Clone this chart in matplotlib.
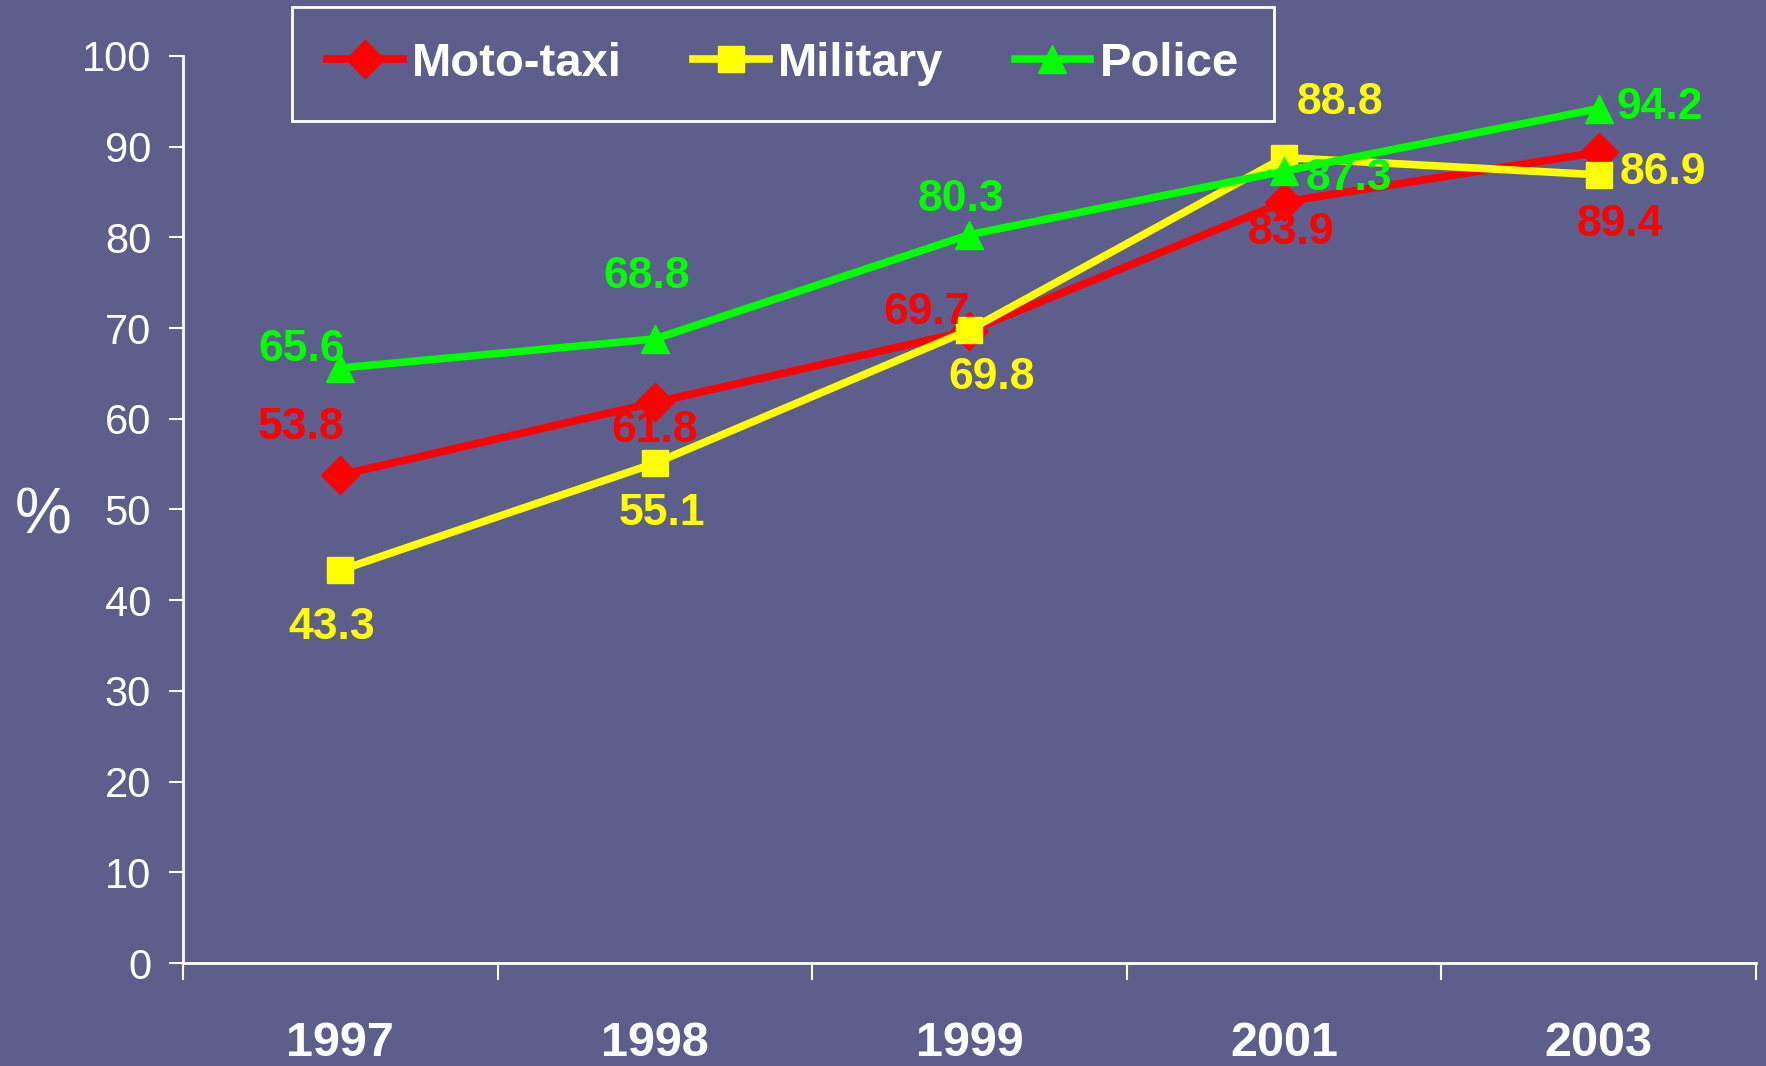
import matplotlib
matplotlib.use("Agg")
import matplotlib.pyplot as plt
from matplotlib import font_manager

years = ["1997", "1998", "1999", "2001", "2003"]
moto = [53.8, 61.8, 69.7, 83.9, 89.4]
military = [43.3, 55.1, 69.8, 88.8, 86.9]
police = [65.6, 68.8, 80.3, 87.3, 94.2]

# label offsets in points (dx, dy) relative to each point
moto_off = [(-28, 34), (0, -20), (-31, 13), (5, -22), (15, -52)]
mil_off = [(-6, -41), (5, -36), (16, -34), (40, 40), (46, 2)]
pol_off = [(-28, 13), (-6, 45), (-6, 25), (47, -5), (44, 1)]

names = {f.name for f in font_manager.fontManager.ttflist}
narrow = "Liberation Sans Narrow" if "Liberation Sans Narrow" in names else "Liberation Sans"

bg = "#5D5E8C"
fig = plt.figure(figsize=(17.66, 10.66), dpi=100, facecolor=bg)
ax = fig.add_axes([0.1036, 0.0966, 0.8907, 0.8509])
ax.set_facecolor(bg)

x = list(range(len(years)))
series = [
    (moto, "red", "D", "Moto-taxi", moto_off, 19),
    (military, "yellow", "s", "Military", mil_off, 19),
    (police, "#00FF00", "^", "Police", pol_off, 20),
]
for vals, col, mk, lab, offs, ms in series:
    ax.plot(x, vals, color=col, lw=5.5, marker=mk, ms=ms, label=lab,
            markeredgecolor=col, zorder=3)
    for xi, v, (dx, dy) in zip(x, vals, offs):
        ax.annotate(f"{v:.1f}", (xi, v), xytext=(dx, dy), textcoords="offset points",
                    ha="center", va="center", color=col, fontsize=32,
                    fontweight="bold", family=narrow, zorder=4)

ax.set_xlim(-0.5, 4.5)
ax.set_ylim(0, 100)
ax.set_yticks(range(0, 101, 10))
ax.set_xticks([i - 0.5 for i in range(6)])
ax.set_xticklabels([])
ax.set_xticks(x, minor=True)
ax.set_xticklabels(years, minor=True)
ax.tick_params(axis="x", which="major", length=12, width=1.5, color="white", direction="out")
ax.tick_params(axis="x", which="minor", length=0, pad=42, labelsize=35, labelcolor="white")
for t in ax.get_xticklabels(minor=True):
    t.set_fontweight("bold")
    t.set_family(narrow)
ax.tick_params(axis="y", length=10, width=1.5, color="white", pad=13,
               labelsize=30, labelcolor="white")
for t in ax.get_yticklabels():
    t.set_family("Liberation Sans")

for s in ["top", "right"]:
    ax.spines[s].set_visible(False)
for s in ["left", "bottom"]:
    ax.spines[s].set_color("white")
    ax.spines[s].set_linewidth(2)

fig.text(43 / 1766, 1 - 516 / 1066, "%", fontsize=46, color="white",
         ha="center", va="center", family="Liberation Sans")

leg = ax.legend(loc="center", ncol=3, bbox_to_anchor=(268 / 1766, 1 - 128 / 1066, 1030 / 1766, 128 / 1066),
                bbox_transform=fig.transFigure, mode="expand", frameon=True, fancybox=False,
                facecolor=bg, edgecolor="white", framealpha=1, borderpad=0.75,
                handlelength=1.6, handletextpad=0.2, columnspacing=1.5,
                prop={"family": narrow, "weight": "bold", "size": 34})
leg.get_frame().set_linewidth(2)
for t in leg.get_texts():
    t.set_color("white")

fig.savefig("out.png", dpi=100, facecolor=bg)
